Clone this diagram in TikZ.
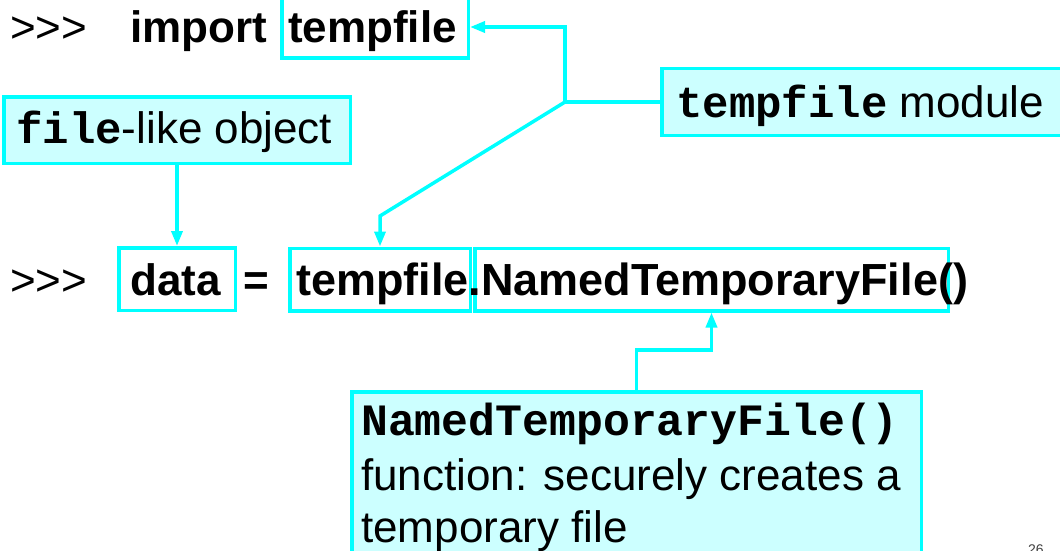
\documentclass[tikz,border=0pt]{standalone}
\usepackage{fontspec}
\setmainfont{Liberation Sans}
\setmonofont{Liberation Mono}
\usetikzlibrary{arrows.meta}
\definecolor{wire}{HTML}{00FFFF}
\definecolor{notefill}{HTML}{CCFFFF}
\definecolor{pagenum}{HTML}{404040}
\newcommand{\pyprompt}{>\kern0pt>\kern0pt>}
\tikzset{
  codebox/.style={draw=wire, line width=3.5pt, inner sep=0pt, minimum height=62.5pt},
  notebox/.style={draw=wire, fill=notefill, line width=3.5pt, inner sep=0pt},
  txt/.style={inner sep=0pt, anchor=base west, font=\fontsize{44}{53}\selectfont},
  code/.style={txt, font=\fontsize{44}{53}\selectfont\bfseries},
  wireline/.style={draw=wire, line width=3.5pt},
  wirearrow/.style={wireline, -{Triangle[length=15pt,width=11pt]}},
}
\begin{document}
\begin{tikzpicture}[x=1pt,y=-1pt]
\useasboundingbox (0,0) rectangle (1060,551);

% boxes around parts of the code
\node[codebox, minimum width=186.5pt] (impbox) at (375,27) {};
\node[codebox, minimum width=116.5pt] (databox) at (177,279) {};
\node[codebox, minimum width=180.5pt] (tbox) at (380,279.5) {};
\node[codebox, minimum width=473.5pt] (ntfbox) at (711.5,279.5) {};

% callout boxes
\node[notebox, minimum width=346.5pt, minimum height=66.5pt] (filebox) at (177,130) {};
\node[notebox, minimum width=416.5pt, minimum height=66.5pt] (modbox) at (870,102) {};
\node[notebox, minimum width=569.5pt, minimum height=226.5pt] (descbox) at (636.5,505) {};

% code lines
\node[txt] (prompta) at (10,43) {\pyprompt};
\node[code] (kwimport) at (130,43) {import};
\node[code] (modname) at (288,43) {tempfile};
\node[txt] (promptb) at (10,295) {\pyprompt};
\node[code] (varname) at (130,295) {data};
\node[code] (assign) at (243,295) {=};
\node[code, font=\fontsize{45}{54}\selectfont\bfseries] (call) at (296,295) {tempfile.NamedTemporaryFile()};

% callout texts
\node[txt] (filetext) at (16,143) {{\ttfamily\bfseries file}-like object};
\node[txt] (modtext) at (676,117) {{\ttfamily\bfseries tempfile} module};
\node[txt] (desca) at (361,435) {\fontsize{44.8}{54}\selectfont\ttfamily\bfseries NamedTemporaryFile()};
\node[txt] (descb) at (361,490) {function: securely creates a};
\node[txt] (descc) at (361,542) {temporary file};

% page number
\node[inner sep=0pt, anchor=north west, text=pagenum, font=\fontsize{14}{16}\selectfont] (pnum) at (1028,545) {26};

% connectors
\coordinate (fork) at (565,102);
\coordinate (kink) at (380,216);
\draw[wireline] (modbox.west) -- (fork);
\draw[wirearrow] (fork) |- (impbox.east);
\draw[wirearrow] (fork) -- (kink) -- (tbox.north);
\draw[wirearrow] (filebox.south) -- (databox.north);
\draw[wirearrow] (descbox.north) -- ++(0,-40) -| (ntfbox.south);
\end{tikzpicture}
\end{document}
